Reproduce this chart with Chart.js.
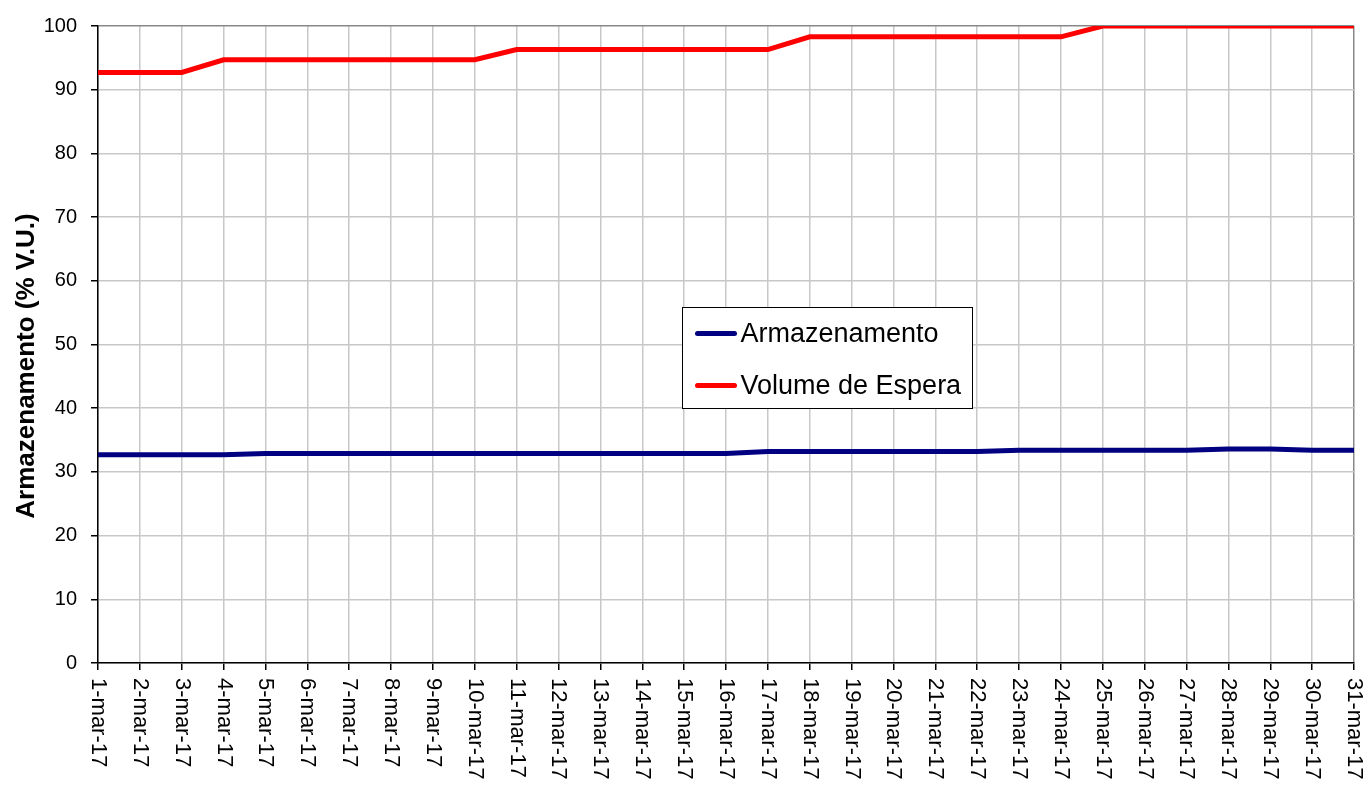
<!DOCTYPE html>
<html>
<head>
<meta charset="utf-8">
<script src="https://cdn.jsdelivr.net/npm/chart.js@4"></script>
<style>
  html, body { margin: 0; padding: 0; background: #fff; }
  canvas { display: block; }
</style>
</head>
<body>
<canvas id="grafico" width="1370" height="785"></canvas>
<script>
// dados
const dias = [];
for (let d = 1; d <= 31; d++) dias.push(d + '-mar-17');

const armazenamento = [
  32.7, 32.7, 32.7, 32.7, 32.9, 32.9, 32.9, 32.9, 32.9, 32.9,
  32.9, 32.9, 32.9, 32.9, 32.9, 32.9, 33.2, 33.2, 33.2, 33.2,
  33.2, 33.2, 33.4, 33.4, 33.4, 33.4, 33.4, 33.6, 33.6, 33.4,
  33.4
];
const volumeEspera = [
  92.7, 92.7, 92.7, 94.7, 94.7, 94.7, 94.7, 94.7, 94.7, 94.7,
  96.3, 96.3, 96.3, 96.3, 96.3, 96.3, 96.3, 98.3, 98.3, 98.3,
  98.3, 98.3, 98.3, 98.3, 100, 100, 100, 100, 100, 100,
  100
];
const nomesSeries = ['Armazenamento', 'Volume de Espera'];
const coresSeries = ['#000080', '#ff0000'];
const tituloY = 'Armazenamento (% V.U.)';

const fonte = '"Liberation Sans", Arial, sans-serif';

// rótulos do eixo x giram 90° no sentido horário (como no Excel) + título do eixo y
const rotulos = {
  id: 'rotulos',
  afterDraw(chart) {
    const ctx = chart.ctx;
    const x = chart.scales.x;
    ctx.save();
    ctx.fillStyle = '#000';
    ctx.font = '22px ' + fonte;
    ctx.textAlign = 'left';
    ctx.textBaseline = 'middle';
    dias.forEach((lab, i) => {
      const px = x.getPixelForValue(i);
      ctx.save();
      ctx.translate(px, x.top + 15);
      ctx.rotate(Math.PI / 2);
      ctx.fillText(lab, 0, 0);
      ctx.restore();
    });

    // título do eixo y
    ctx.font = 'bold 26px ' + fonte;
    ctx.textAlign = 'center';
    ctx.translate(27, 366);
    ctx.rotate(-Math.PI / 2);
    ctx.fillText(tituloY, 0, 0);
    ctx.restore();
  }
};

// legenda dentro da área do gráfico
const legendaInterna = {
  id: 'legendaInterna',
  afterDraw(chart) {
    const ctx = chart.ctx;
    const bx = 682.5, by = 307.5, bw = 290, bh = 101;
    ctx.save();
    ctx.fillStyle = '#fff';
    ctx.fillRect(bx, by, bw, bh);
    ctx.strokeStyle = '#000';
    ctx.lineWidth = 1;
    ctx.strokeRect(bx, by, bw, bh);
    ctx.font = '27px ' + fonte;
    ctx.textAlign = 'left';
    ctx.textBaseline = 'middle';
    nomesSeries.forEach((nome, i) => {
      const y = by + 26 + i * 52;
      ctx.strokeStyle = coresSeries[i];
      ctx.lineWidth = 5;
      ctx.lineCap = 'round';
      ctx.beginPath();
      ctx.moveTo(bx + 15, y);
      ctx.lineTo(bx + 52, y);
      ctx.stroke();
      ctx.fillStyle = '#000';
      ctx.fillText(nome, bx + 58, y + 1);
    });
    ctx.restore();
  }
};

new Chart(document.getElementById('grafico'), {
  type: 'line',
  data: {
    labels: dias,
    datasets: [
      {
        label: nomesSeries[0],
        data: armazenamento,
        borderColor: coresSeries[0],
        backgroundColor: coresSeries[0],
        borderWidth: 5,
        pointRadius: 0,
        tension: 0
      },
      {
        label: nomesSeries[1],
        data: volumeEspera,
        borderColor: coresSeries[1],
        backgroundColor: coresSeries[1],
        borderWidth: 5,
        pointRadius: 0,
        tension: 0
      }
    ]
  },
  options: {
    responsive: false,
    animation: false,
    layout: { padding: { top: 24, right: 16, left: 0, bottom: 0 } },
    plugins: {
      legend: { display: false },
      tooltip: { enabled: false }
    },
    scales: {
      x: {
        offset: false,
        afterFit(scale) { scale.height = 122; },
        grid: {
          color: ctx => (ctx.index === dias.length - 1 ? '#888' : '#c8c8c8'),
          lineWidth: 1.5,
          drawTicks: true,
          tickLength: 7,
          tickColor: '#000'
        },
        border: { color: '#000', width: 1.5 },
        ticks: { display: false }
      },
      y: {
        min: 0,
        max: 100,
        afterFit(scale) { scale.width = 98; },
        ticks: {
          stepSize: 10,
          color: '#000',
          padding: 14,
          font: { family: fonte, size: 20 }
        },
        grid: {
          color: ctx => (ctx.tick && ctx.tick.value === 100 ? '#888' : '#c8c8c8'),
          lineWidth: 1.5,
          drawTicks: true,
          tickLength: 7,
          tickColor: '#000'
        },
        border: { color: '#000', width: 1.5 }
      }
    }
  },
  plugins: [rotulos, legendaInterna]
});
</script>
</body>
</html>
